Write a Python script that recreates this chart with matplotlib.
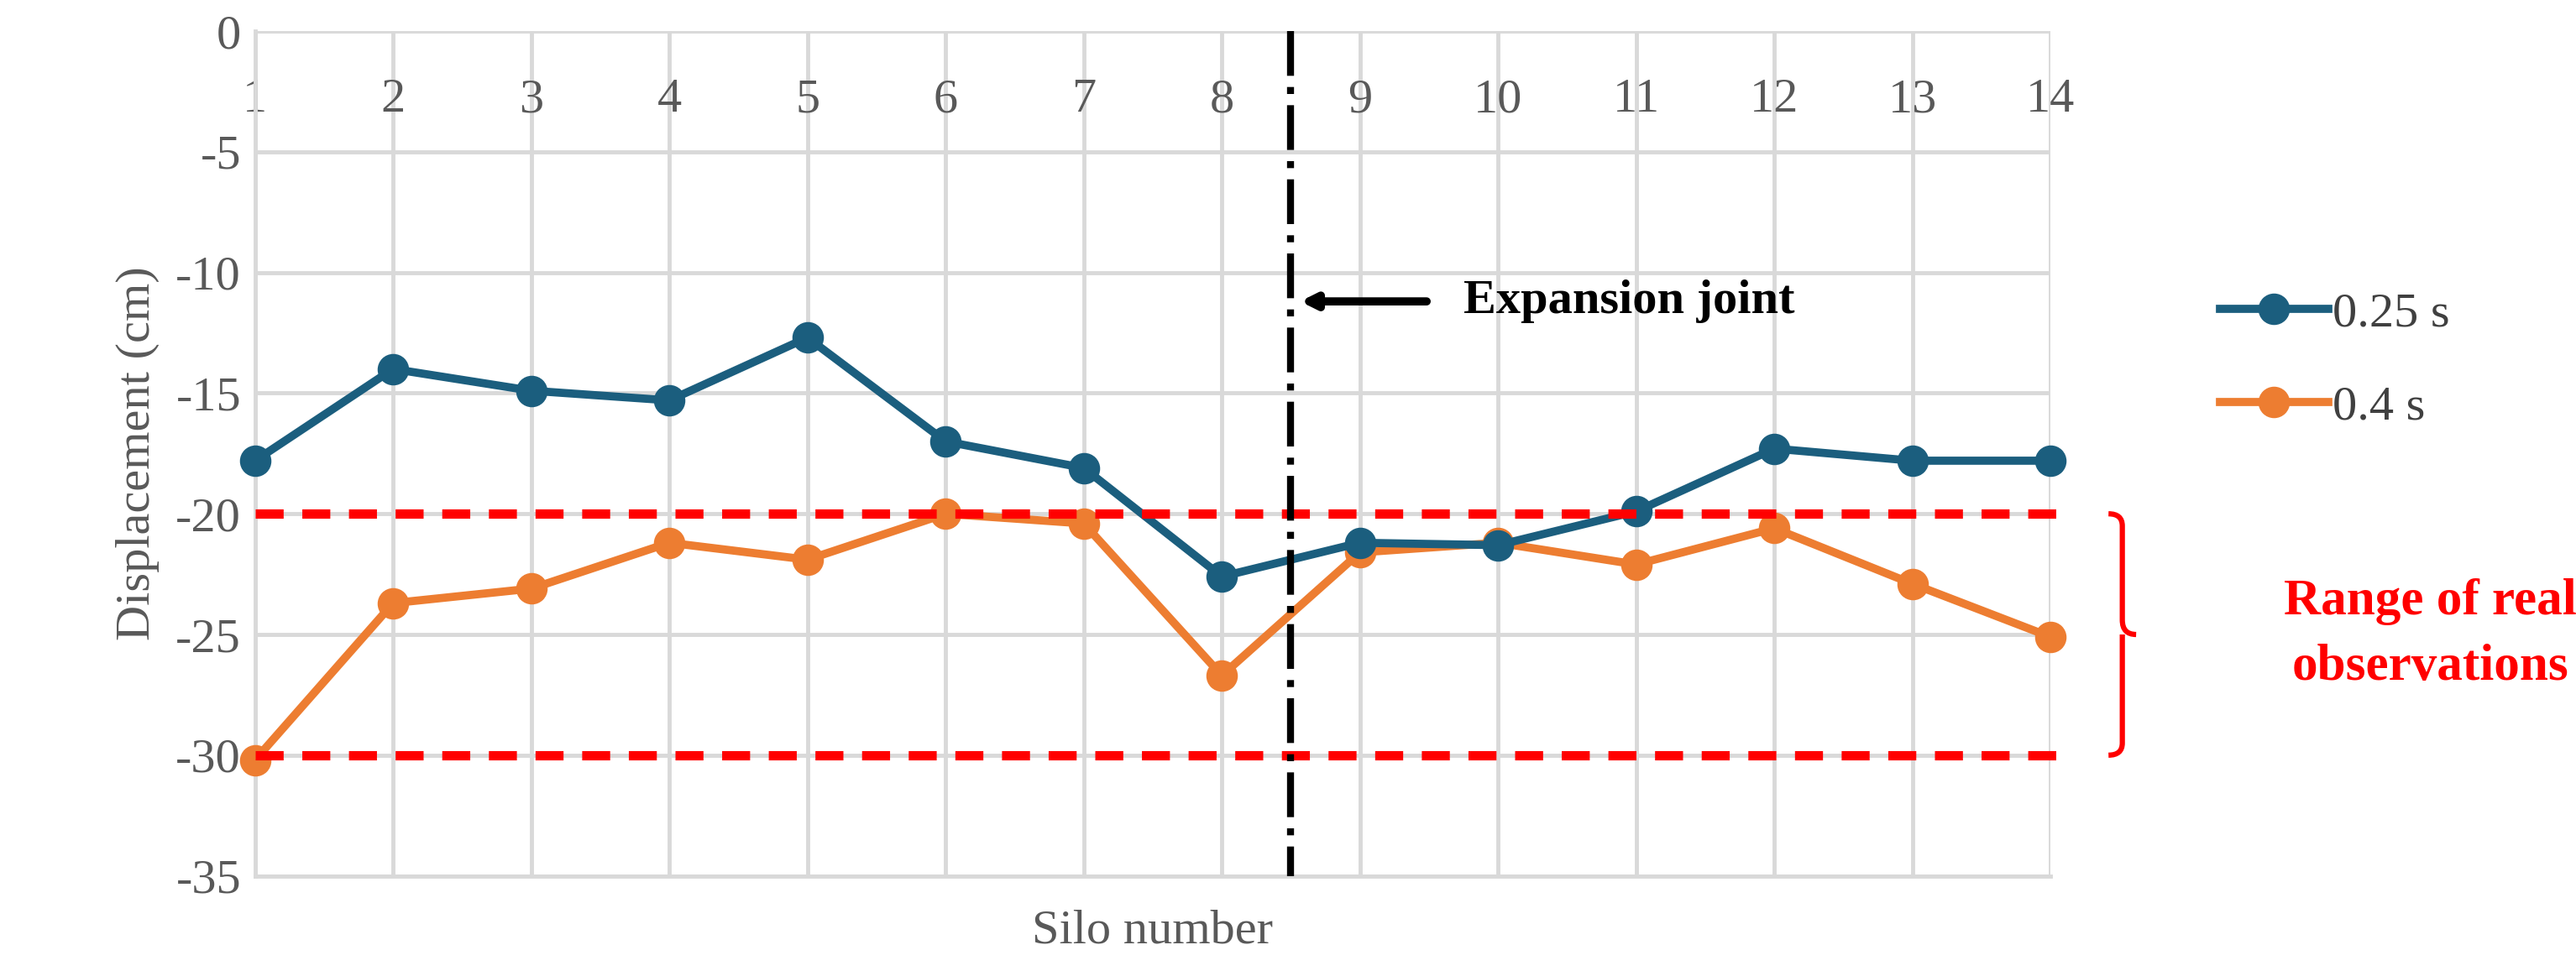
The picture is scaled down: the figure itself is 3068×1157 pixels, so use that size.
import matplotlib.pyplot as plt
from matplotlib.path import Path
from matplotlib.patches import PathPatch

plt.rcParams['font.family'] = ['Liberation Serif', 'DejaVu Serif']
plt.rcParams['axes.unicode_minus'] = False

silos = list(range(1, 15))
disp_025 = [-17.8, -14.0, -14.9, -15.3, -12.7, -17.0, -18.1, -22.6, -21.2, -21.3, -19.9, -17.3, -17.8, -17.8]
disp_04 = [-30.2, -23.7, -23.1, -21.2, -21.9, -20.0, -20.4, -26.7, -21.6, -21.2, -22.1, -20.6, -22.9, -25.1]
obs_range = [-20, -30]
joint_x = 8.5

fig = plt.figure(figsize=(30.68, 11.57), dpi=100)
ax = fig.add_axes([0.099, 0.098, 0.697, 0.87])

ax.set_xlim(1, 14)
ax.set_ylim(-35, 0)
ax.set_yticks(range(-35, 1, 5))
ax.set_xticks(silos)
ax.grid(True, color='#d9d9d9', lw=3.5)
ax.set_axisbelow(True)
for s in ['top', 'right']:
    ax.spines[s].set_visible(False)
for s in ['left', 'bottom']:
    ax.spines[s].set_color('#d9d9d9')
    ax.spines[s].set_linewidth(3.5)

ax.xaxis.tick_top()
ax.tick_params(axis='x', length=0, pad=-78, labelsize=42, colors='#595959')
ax.tick_params(axis='y', length=0, pad=12, labelsize=42, colors='#595959')

ax.plot(silos, disp_025, '-o', color='#1b5e7e', lw=7, ms=26, label='0.25 s', clip_on=False, zorder=4)
ax.plot(silos, disp_04, '-o', color='#ed7d31', lw=7, ms=26, label='0.4 s', clip_on=False, zorder=3)

for y in obs_range:
    ax.plot([1, 14.1], [y, y], color='red', lw=8, ls=(0, (3, 2)), clip_on=False, zorder=5)

ax.plot([joint_x, joint_x], [0, -35], color='black', lw=6, ls='-.', clip_on=False, zorder=6)
ax.annotate('', xy=(8.55, -11.2), xytext=(9.5, -11.2),
            arrowprops=dict(arrowstyle='-|>,head_width=0.5,head_length=1.0', lw=7, color='black'))
ax.text(9.75, -11.2, 'Expansion joint', fontsize=42, fontweight='bold', va='center')

# curly brace for the observation range
x0, xm, xt = 14.42, 14.52, 14.62
brace = Path([(x0, -20), (xm, -20), (xm, -20.5), (xm, -24.4), (xm, -25), (xt, -25),
              (xm, -25), (xm, -25.6), (xm, -29.5), (xm, -30), (x0, -30)],
             [Path.MOVETO, Path.CURVE3, Path.CURVE3, Path.LINETO, Path.CURVE3, Path.CURVE3,
              Path.MOVETO, Path.CURVE3, Path.LINETO, Path.CURVE3, Path.CURVE3])
ax.add_patch(PathPatch(brace, fill=False, color='red', lw=4.5, clip_on=False))
ax.text(16.75, -25, 'Range of real\nobservations', color='red', fontsize=44,
        fontweight='bold', ha='center', va='center', linespacing=1.5)

ax.set_ylabel('Displacement (cm)', fontsize=42, color='#595959', labelpad=14)
ax.text(7.5, -37.3, 'Silo number', fontsize=42, color='#595959', ha='center', va='center')

ax.legend(loc='center left', bbox_to_anchor=(1.07, 0.61), frameon=False, fontsize=42,
          handlelength=2.2, labelspacing=1.0, handletextpad=0.1, labelcolor='#404040')

fig.savefig('out.png', dpi=100)
